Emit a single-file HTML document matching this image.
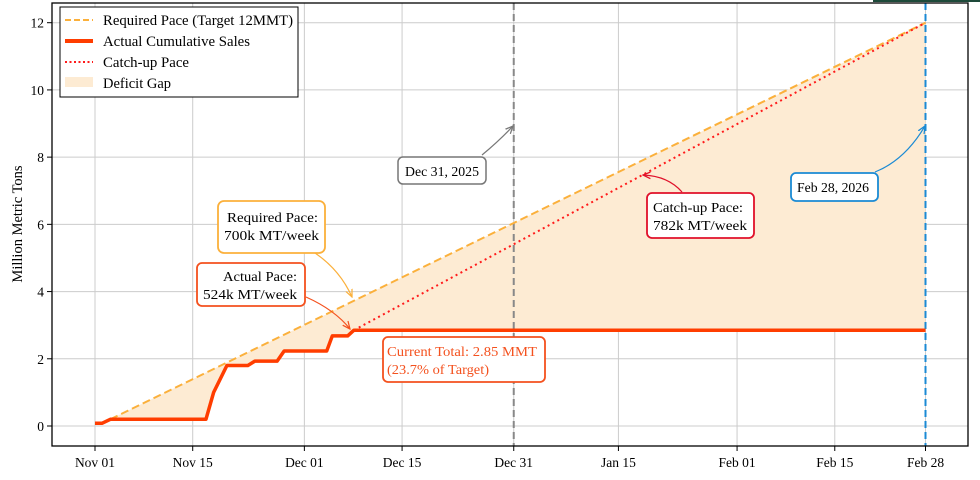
<!DOCTYPE html>
<html><head><meta charset="utf-8"><style>
body{margin:0;background:#fff;}
svg{display:block;font-family:"Liberation Serif",serif;}
</style></head><body>
<svg id="chart" width="980" height="480" viewBox="0 0 980 480">
<defs>
<marker id="ah" viewBox="0 0 10 10" refX="9" refY="5" markerWidth="7" markerHeight="7" orient="auto-start-reverse"><path d="M0,1 L9,5 L0,9" fill="none" stroke="context-stroke" stroke-width="1.5"/></marker>
</defs>
<line x1="873" y1="1" x2="980" y2="1" stroke="#1e4a3a" stroke-width="2"/>
<g id="grid"></g>
<g id="marks"></g>
<rect x="52" y="3" width="916" height="443" fill="none" stroke="#000" stroke-width="1.3"/>
<g id="axes"></g>
<text x="22" y="224" font-size="14.5" text-anchor="middle" transform="rotate(-90 22 224)">Million Metric Tons</text>
<g id="legend" font-size="14.5">
<rect x="60" y="7" width="238" height="90" fill="#fff" stroke="#000" stroke-width="1"/>
<line x1="65" y1="20" x2="93" y2="20" stroke="#fbb03b" stroke-width="2" stroke-dasharray="6,3"/>
<text x="103" y="25" textLength="190" lengthAdjust="spacingAndGlyphs">Required Pace (Target 12MMT)</text>
<line x1="65" y1="41" x2="93" y2="41" stroke="#ff3d00" stroke-width="4"/>
<text x="103" y="46" textLength="147" lengthAdjust="spacingAndGlyphs">Actual Cumulative Sales</text>
<line x1="65" y1="62" x2="93" y2="62" stroke="#ff1a1a" stroke-width="2" stroke-dasharray="2,2.5"/>
<text x="103" y="67" textLength="86" lengthAdjust="spacingAndGlyphs">Catch-up Pace</text>
<rect x="65" y="77" width="28" height="10" fill="#fdebd3"/>
<text x="103" y="88" textLength="68" lengthAdjust="spacingAndGlyphs">Deficit Gap</text>
</g>
<g id="annotations" font-size="14">
<path d="M482,155 Q500,140 513,126" fill="none" stroke="#777" stroke-width="1.2" marker-end="url(#ah)"/>
<rect x="398" y="157" width="88" height="27" rx="5" fill="#fff" stroke="#777" stroke-width="1.5"/>
<text x="405" y="176" textLength="74" lengthAdjust="spacingAndGlyphs">Dec 31, 2025</text>
<path d="M875,172 Q905,160 925,126" fill="none" stroke="#1a8ad4" stroke-width="1.2" marker-end="url(#ah)"/>
<rect x="791" y="173" width="87" height="28" rx="5" fill="#fff" stroke="#1a8ad4" stroke-width="1.8"/>
<text x="797" y="192" textLength="72" lengthAdjust="spacingAndGlyphs">Feb 28, 2026</text>
<path d="M682,192 Q668,176 643,175" fill="none" stroke="#e0102a" stroke-width="1.2" marker-end="url(#ah)"/>
<rect x="647" y="193" width="107" height="45" rx="5" fill="#fff" stroke="#e0102a" stroke-width="1.8"/>
<text x="653" y="212" textLength="90" lengthAdjust="spacingAndGlyphs">Catch-up Pace:</text>
<text x="653" y="230" textLength="94" lengthAdjust="spacingAndGlyphs">782k MT/week</text>
<path d="M315,253 Q340,270 352,297" fill="none" stroke="#fbb03b" stroke-width="1.2" marker-end="url(#ah)"/>
<rect x="218" y="201" width="107" height="52" rx="6" fill="#fff" stroke="#fbb03b" stroke-width="1.8"/>
<text x="227" y="222" textLength="91" lengthAdjust="spacingAndGlyphs">Required Pace:</text>
<text x="224" y="240" textLength="95" lengthAdjust="spacingAndGlyphs">700k MT/week</text>
<path d="M306,297 Q335,310 350,329" fill="none" stroke="#f4511e" stroke-width="1.2" marker-end="url(#ah)"/>
<rect x="197" y="263" width="108" height="43" rx="5" fill="#fff" stroke="#f4511e" stroke-width="1.8"/>
<text x="223" y="281" textLength="74" lengthAdjust="spacingAndGlyphs">Actual Pace:</text>
<text x="203" y="299" textLength="94" lengthAdjust="spacingAndGlyphs">524k MT/week</text>
<rect x="383" y="337" width="162" height="45" rx="5" fill="#fff" stroke="#f4511e" stroke-width="1.8"/>
<text x="387" y="356" fill="#f4511e" textLength="150" lengthAdjust="spacingAndGlyphs">Current Total: 2.85 MMT</text>
<text x="387" y="374" fill="#f4511e" textLength="102" lengthAdjust="spacingAndGlyphs">(23.7% of Target)</text>
</g>
</svg>
<script>
// data (days since Nov 01, million metric tons)
const actualDays = [0, 1, 2.2, 15.9, 17, 18.9, 21.9, 22.9, 26.1, 27.1, 33.2, 34, 36.2, 37.1, 119];
const actualVals = [0.08, 0.08, 0.2, 0.2, 1.0, 1.8, 1.8, 1.93, 1.93, 2.23, 2.23, 2.68, 2.68, 2.85, 2.85];
const requiredDays = [2.2, 119];
const requiredVals = [0.2, 12];
const catchupDays = [37.1, 119];
const catchupVals = [2.85, 12];
const yTicks = [0, 2, 4, 6, 8, 10, 12];
const xTickDays = [0, 14, 30, 44, 60, 75, 92, 106, 119];
const xTickLabels = ["Nov 01", "Nov 15", "Dec 01", "Dec 15", "Dec 31", "Jan 15", "Feb 01", "Feb 15", "Feb 28"];
const markerDays = [60, 119];

const NS = "http://www.w3.org/2000/svg";
const X = d => 95 + d * (925.5 - 95) / 119;
const Y = v => 426 - v * (426 - 22.7) / 12;
function mk(tag, attrs, parent) { const e = document.createElementNS(NS, tag); for (const k in attrs) e.setAttribute(k, attrs[k]); parent.appendChild(e); return e; }
const grid = document.getElementById('grid'), marks = document.getElementById('marks'), axes = document.getElementById('axes');

yTicks.forEach(v => {
  const l = mk('line', {x1: 52, x2: 968, y1: Y(v), y2: Y(v), stroke: '#ccc', 'stroke-width': 1}, grid);
  
  
  const t = mk('line', {x1: 47, x2: 52, y1: Y(v), y2: Y(v), stroke: '#000'}, axes);
  
  
  const tx = mk('text', {x: 44, y: Y(v) + 5, 'font-size': 13.5, 'text-anchor': 'end'}, axes);
  tx.textContent = v;
  
  
});
xTickDays.forEach((d, i) => {
  const l = mk('line', {x1: X(d), x2: X(d), y1: 3, y2: 446, stroke: '#ccc', 'stroke-width': 1}, grid);
  
  
  const t = mk('line', {x1: X(d), x2: X(d), y1: 446, y2: 451, stroke: '#000'}, axes);
  
  
  const tx = mk('text', {x: X(d), y: 467, 'font-size': 13.5, 'text-anchor': 'middle'}, axes);
  tx.textContent = xTickLabels[i];
  
  
});

let pts = [];
actualDays.forEach((d, i) => { if (d >= requiredDays[0]) pts.push(X(d) + ',' + Y(actualVals[i])); });
pts.push(X(requiredDays[1]) + ',' + Y(requiredVals[1]));
pts.push(X(requiredDays[0]) + ',' + Y(requiredVals[0]));
const fill = mk('polygon', {points: pts.join(' '), fill: '#fdebd3'}, marks);



const mc = ['#888', '#1a8ad4'];
markerDays.forEach((d, i) => {
  const l = mk('line', {x1: X(d), x2: X(d), y1: 3, y2: 446, stroke: mc[i], 'stroke-width': 2, 'stroke-dasharray': '7,4'}, marks);
  
  
});

const req = mk('polyline', {points: requiredDays.map((d, i) => X(d) + ',' + Y(requiredVals[i])).join(' '), fill: 'none', stroke: '#fbb03b', 'stroke-width': 2, 'stroke-dasharray': '8,4'}, marks);


const cu = mk('polyline', {points: catchupDays.map((d, i) => X(d) + ',' + Y(catchupVals[i])).join(' '), fill: 'none', stroke: '#ff1a1a', 'stroke-width': 2, 'stroke-dasharray': '2,3.5'}, marks);


const act = mk('polyline', {points: actualDays.map((d, i) => X(d) + ',' + Y(actualVals[i])).join(' '), fill: 'none', stroke: '#ff3d00', 'stroke-width': 3.5, 'stroke-linejoin': 'round'}, marks);


</script>
</body></html>
